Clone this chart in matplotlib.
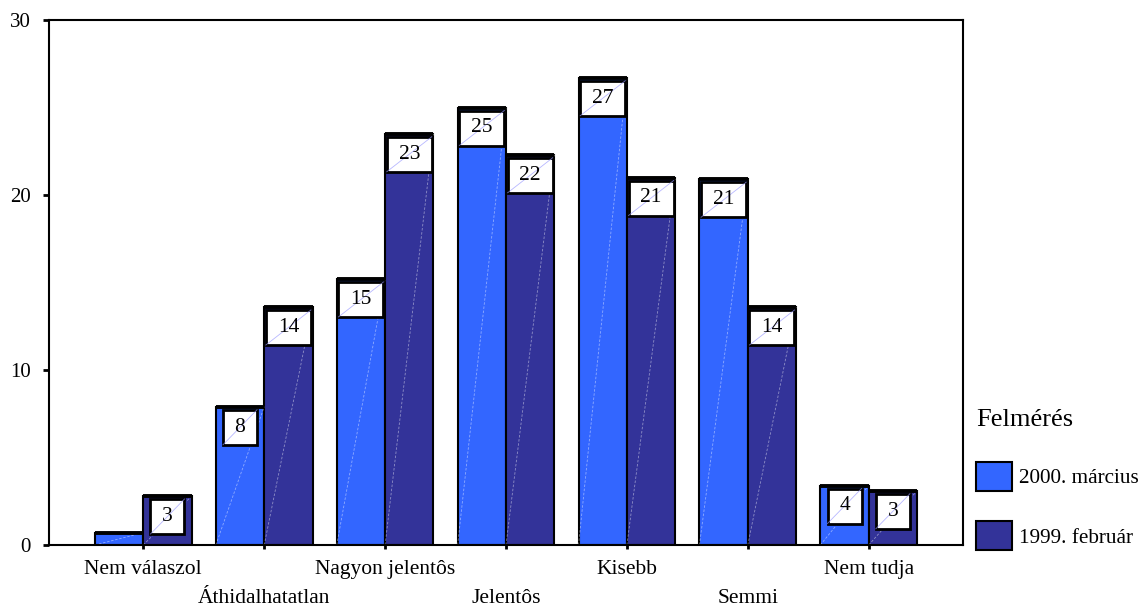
import matplotlib
matplotlib.use("Agg")
import matplotlib.pyplot as plt
from matplotlib.patches import Rectangle, Patch
import numpy as np

plt.rcParams['font.family'] = ['Liberation Serif', 'DejaVu Serif']

categories = ["Nem válaszol", "Áthidalhatatlan", "Nagyon jelentôs", "Jelentôs",
              "Kisebb", "Semmi", "Nem tudja"]
series_names = ["2000. március", "1999. február"]
values_2000 = [0.7, 7.9, 15.2, 25.0, 26.7, 20.9, 3.4]
values_1999 = [2.8, 13.6, 23.5, 22.3, 21.0, 13.6, 3.1]
labels_2000 = [None, "8", "15", "25", "27", "21", "4"]
labels_1999 = ["3", "14", "23", "22", "21", "14", "3"]
colors = ["#3366FF", "#333399"]

fig = plt.figure(figsize=(11.42, 6.08), dpi=100)
ax = fig.add_axes([49/1142, 63/608, (963-49)/1142, (545-20)/608])

x = np.arange(len(categories))
w = 0.4
series = [(values_2000, labels_2000, -w/2), (values_1999, labels_1999, w/2)]

px_x = 1.0 / 120.8   # data units per pixel (x)
px_y = 30.0 / 525.0  # data units per pixel (y)

for (vals, labs, off), col in zip(series, colors):
    ax.bar(x + off, vals, width=w, color=col, edgecolor="black",
           linewidth=1.5, zorder=2)
    for xi, v, lab in zip(x + off, vals, labs):
        # thick top edge
        ax.plot([xi - w/2, xi + w/2], [v, v], color="black", lw=2.8,
                solid_capstyle="butt", zorder=3)
        # faint diagonal artefact line
        ax.plot([xi - w/2, xi + w/2], [0, v], color="white", lw=0.6,
                alpha=0.45, ls=(0, (3, 2)), zorder=2.5)
        if lab is None:
            continue
        bw = (34 if len(lab) == 1 else 45) * px_x
        bh = 35 * px_y
        top = v - 3 * px_y
        rect = Rectangle((xi - bw/2, top - bh), bw, bh, facecolor="white",
                         edgecolor="black", linewidth=2.0, zorder=4)
        ax.add_patch(rect)
        ax.plot([xi - bw/2, xi + bw/2], [top - bh, top], color="#9999FF",
                lw=0.6, alpha=0.7, zorder=4.5)
        ax.text(xi, top - bh/2, lab, ha="center", va="center",
                fontsize=15.5, zorder=5)

ax.set_xlim(-0.78, 6.78)
ax.set_ylim(0, 30)
ax.set_yticks([0, 10, 20, 30])
ax.set_xticks(x)
ax.set_xticklabels(categories, fontsize=15.5)
ax.tick_params(axis="y", labelsize=15, length=4, width=2, direction="out", pad=9)
ax.tick_params(axis="x", length=3, width=2, direction="out", pad=8)
for i, tick in enumerate(ax.xaxis.get_major_ticks()):
    if i % 2 == 1:
        tick.set_pad(8 + 21)
for s in ax.spines.values():
    s.set_linewidth(1.5)

handles = [Patch(facecolor=c, edgecolor="black", linewidth=1.5) for c in colors]
leg = fig.legend(handles, series_names, loc="upper left",
                 bbox_to_anchor=(957/1142, 1 - 390/608), frameon=False,
                 fontsize=15.3, title="Felmérés", title_fontsize=19,
                 handlelength=1.7, handleheight=1.7, handletextpad=0.3,
                 labelspacing=1.45, alignment="left")

fig.savefig("out.png", dpi=100)
